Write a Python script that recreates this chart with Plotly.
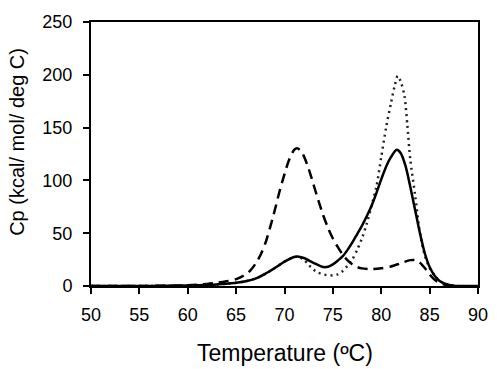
import plotly.graph_objects as go

# Solid curve
t_solid = [50, 55, 58, 60, 62, 63, 64, 65, 66, 67, 68, 69, 70, 71, 71.5, 72, 73, 74, 74.5, 75, 75.5,
           76, 76.5, 77, 77.5, 78, 78.5, 79, 79.5, 80, 80.5, 81, 81.6, 82, 82.5, 83, 83.5, 84, 84.5,
           85, 85.5, 86, 86.5, 87, 87.5, 88, 90]
cp_solid = [0, 0, 0.2, 0.5, 1, 1.5, 2.2, 3, 4.5, 7, 11.5, 17, 23, 27.5, 27.8, 26.5, 22, 18, 18.3, 20.5, 24,
            28, 34, 41, 49, 57, 66, 76, 88, 101, 113, 122, 129, 126, 114, 94, 72, 50, 31,
            18, 10, 5, 2.5, 1, 0.3, 0, 0]

# Dashed curve
t_dash = [50, 55, 58, 60, 62, 63, 64, 65, 66, 66.5, 67, 67.5, 68, 68.5, 69, 69.5, 70, 70.5, 71, 71.3,
          71.7, 72, 72.5, 73, 73.5, 74, 74.5, 75, 75.5, 76, 76.5, 77, 77.5, 78, 79, 80, 81, 82, 83,
          83.5, 84, 84.5, 85, 85.5, 86, 86.5, 87]
cp_dash = [0, 0, 0.3, 0.8, 2, 3, 4.5, 6.5, 11, 15, 21, 29, 40, 55, 72, 90, 106, 120, 129, 130.5,
           128, 123, 111, 96, 81, 67, 55, 45, 37, 30, 24.5, 20.5, 18, 16.7, 16, 16.8, 18.5, 21.5, 24.5,
           24.5, 22, 17, 11, 6, 3, 1.5, 0.5]

# Dotted curve
t_dot = [50, 55, 58, 60, 62, 63, 64, 65, 66, 67, 68, 69, 70, 71, 71.5, 72, 72.5, 73, 73.5, 74, 75, 75.5,
         76, 76.5, 77, 77.5, 78, 78.5, 79, 79.5, 80, 80.5, 81, 81.4, 81.7, 82, 82.4, 82.7, 83, 83.5,
         84, 84.5, 85, 85.5, 86, 86.5, 87, 87.5, 88]
cp_dot = [0, 0, 0.2, 0.5, 1, 1.5, 2.2, 3, 4.5, 7, 11.5, 17, 23, 27.5, 27.5, 25, 20, 15.5, 12.5, 11, 10, 11,
          14, 19, 25, 34, 45, 59, 76, 94, 122, 150, 173, 190, 199, 194, 180, 152, 120, 86,
          50, 29, 17, 10, 5, 2.5, 1, 0.3, 0]

x_ticks = [50, 55, 60, 65, 70, 75, 80, 85, 90]
y_ticks = [0, 50, 100, 150, 200, 250]

FONT = "Liberation Sans, Arial, sans-serif"

fig = go.Figure()
fig.add_trace(go.Scatter(x=t_dot, y=cp_dot, mode="lines",
                         line=dict(color="#222222", width=2.5, dash="2px,4px", shape="spline", smoothing=0.8),
                         showlegend=False))
fig.add_trace(go.Scatter(x=t_dash, y=cp_dash, mode="lines",
                         line=dict(color="black", width=2.5, dash="10px,6px", shape="spline", smoothing=0.8),
                         showlegend=False))
fig.add_trace(go.Scatter(x=t_solid, y=cp_solid, mode="lines",
                         line=dict(color="black", width=2.5, shape="spline", smoothing=0.8),
                         showlegend=False))

fig.update_layout(
    width=500, height=369,
    margin=dict(l=91, r=19, t=12, b=83),
    paper_bgcolor="white", plot_bgcolor="white",
    font=dict(family=FONT, color="black", size=18),
    xaxis=dict(range=[50, 90], tickvals=x_ticks, ticktext=[str(v) for v in x_ticks],
               showgrid=False, zeroline=False, showline=True, linecolor="black", linewidth=2,
               mirror=True, ticks="outside", ticklen=6, tickwidth=1.5, tickcolor="black",
               ticklabelstandoff=5, tickfont=dict(size=18)),
    yaxis=dict(range=[0, 250], tickvals=y_ticks, ticktext=[str(v) for v in y_ticks],
               showgrid=False, zeroline=False, showline=True, linecolor="black", linewidth=2,
               mirror=True, ticks="outside", ticklen=6, tickwidth=1.5, tickcolor="black",
               ticklabelstandoff=7, tickfont=dict(size=18)),
    annotations=[
        dict(text="Temperature (ºC)", xref="paper", yref="paper", x=0.5, y=0,
             yshift=-67, showarrow=False, font=dict(size=23), xanchor="center", yanchor="middle"),
        dict(text="Cp (kcal/ mol/ deg C)", xref="paper", yref="paper", x=0, y=0.546,
             xshift=-74, showarrow=False, font=dict(size=20), textangle=-90,
             xanchor="center", yanchor="middle"),
    ],
)

fig.write_html("out.html", config={"displayModeBar": False},
               post_script="document.body.style.margin='0';document.body.style.padding='0';")
